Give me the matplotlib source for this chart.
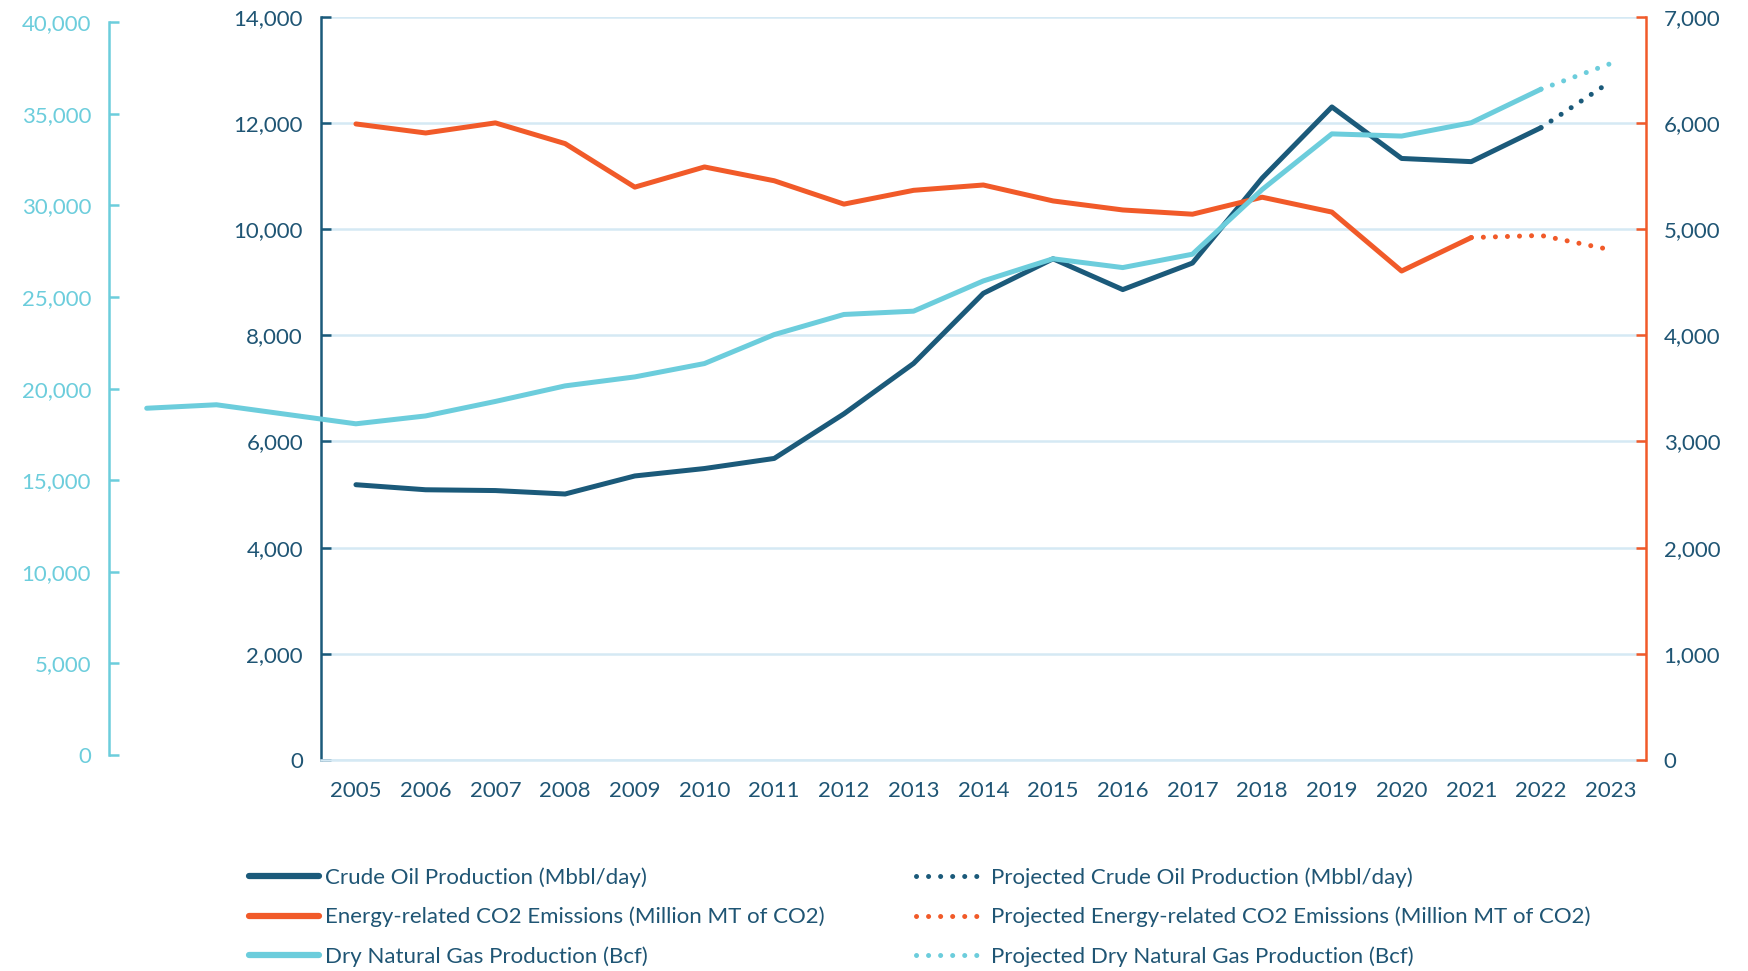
import matplotlib.pyplot as plt
from matplotlib.lines import Line2D
from matplotlib.ticker import FuncFormatter

plt.rcParams['font.family'] = ['Lato', 'DejaVu Sans']

years = list(range(2005, 2023))
oil = [5185, 5090, 5075, 5010, 5350, 5490, 5680, 6520, 7470, 8790, 9440, 8860,
       9360, 10960, 12300, 11330, 11270, 11910]
oil_proj_years = [2022, 2023]
oil_proj = [11910, 12780]

co2_years = list(range(2005, 2022))
co2 = [5990, 5905, 6000, 5805, 5395, 5585, 5455, 5235, 5365, 5415, 5265, 5180,
       5140, 5300, 5160, 4605, 4920]
co2_proj_years = [2021, 2022, 2023]
co2_proj = [4920, 4940, 4805]

gas_years = [2002, 2003] + list(range(2005, 2023))
gas = [18930, 19120, 18080, 18510, 19300, 20150, 20640, 21370, 22950, 24050,
       24230, 25880, 27090, 26610, 27340, 30870, 33910, 33790, 34520, 36350]
gas_proj_years = [2022, 2023]
gas_proj = [36350, 37750]

DARK = '#1B5A7A'
ORANGE = '#F15A29'
CYAN = '#6CCDDC'
GRID = '#D5E9F4'
TXT = '#1F5574'
FS = 16

fmt = FuncFormatter(lambda v, p: '{:,}'.format(int(v)))
dot = (0, (0.01, 2.4))

fig = plt.figure(figsize=(17.48, 9.71), dpi=100)

ax = fig.add_axes([0.1837, 0.2173, 0.7577, 0.7655])
ax.set_zorder(1)
ax.plot(years, oil, color=DARK, lw=3.6, solid_capstyle='round', zorder=3)
ax.plot(oil_proj_years, oil_proj, color=DARK, lw=3.6, linestyle=dot,
        dash_capstyle='round', zorder=3)
ax.set_xlim(2004.5, 2023.5)
ax.set_ylim(0, 14000)
ax.set_yticks(range(0, 14001, 2000))
ax.yaxis.set_major_formatter(fmt)
ax.set_xticks(range(2005, 2024))
ax.grid(axis='y', color=GRID, lw=1.8)
ax.set_axisbelow(True)
for s in ['top', 'right']:
    ax.spines[s].set_visible(False)
ax.spines['bottom'].set_color(GRID)
ax.spines['bottom'].set_linewidth(1.8)
ax.spines['left'].set_color(DARK)
ax.spines['left'].set_linewidth(1.8)
ax.tick_params(axis='y', direction='in', length=7, width=1.8, color=DARK,
               labelcolor=TXT, labelsize=FS, pad=13)
ax.tick_params(axis='x', length=0, labelcolor=TXT, labelsize=FS, pad=15)

ax2 = ax.twinx()
ax2.set_zorder(2)
ax2.plot(co2_years, co2, color=ORANGE, lw=3.6, solid_capstyle='round')
ax2.plot(co2_proj_years, co2_proj, color=ORANGE, lw=3.6, linestyle=dot,
         dash_capstyle='round')
ax2.set_ylim(0, 7000)
ax2.set_yticks(range(0, 7001, 1000))
ax2.yaxis.set_major_formatter(fmt)
for s in ['top', 'left', 'bottom']:
    ax2.spines[s].set_visible(False)
ax2.spines['right'].set_color(ORANGE)
ax2.spines['right'].set_linewidth(1.8)
ax2.tick_params(axis='y', direction='in', length=7, width=1.8, color=ORANGE,
                labelcolor=TXT, labelsize=FS, pad=13)

axg = fig.add_axes([0.0624, 0.2225, 0.879, 0.7545])
axg.set_zorder(3)
axg.patch.set_visible(False)
axg.plot(gas_years, gas, color=CYAN, lw=3.6, solid_capstyle='round')
axg.plot(gas_proj_years, gas_proj, color=CYAN, lw=3.6, linestyle=dot,
         dash_capstyle='round')
axg.set_xlim(2001.46, 2023.5)
axg.set_ylim(0, 40000)
axg.set_yticks(range(0, 40001, 5000))
axg.yaxis.set_major_formatter(fmt)
axg.set_xticks([])
for s in ['top', 'right', 'bottom']:
    axg.spines[s].set_visible(False)
axg.spines['left'].set_color(CYAN)
axg.spines['left'].set_linewidth(1.8)
axg.tick_params(axis='y', direction='in', length=7, width=1.8, color=CYAN,
                labelcolor=CYAN, labelsize=FS, pad=13)

handles = [
    Line2D([], [], color=DARK, lw=4.5, solid_capstyle='round'),
    Line2D([], [], color=ORANGE, lw=4.5, solid_capstyle='round'),
    Line2D([], [], color=CYAN, lw=4.5, solid_capstyle='round'),
    Line2D([], [], color=DARK, lw=3.6, linestyle=dot, dash_capstyle='round'),
    Line2D([], [], color=ORANGE, lw=3.6, linestyle=dot, dash_capstyle='round'),
    Line2D([], [], color=CYAN, lw=3.6, linestyle=dot, dash_capstyle='round'),
]
labels = ['Crude Oil Production (Mbbl/day)',
          'Energy-related CO2 Emissions (Million MT of CO2)',
          'Dry Natural Gas Production (Bcf)',
          'Projected Crude Oil Production (Mbbl/day)',
          'Projected Energy-related CO2 Emissions (Million MT of CO2)',
          'Projected Dry Natural Gas Production (Bcf)']
leg = fig.legend(handles, labels, ncol=2, loc='upper left',
                 bbox_to_anchor=(0.1376, 0.1159), frameon=False, fontsize=FS,
                 handlelength=3.15, handletextpad=0.25, columnspacing=4.1,
                 labelspacing=0.85, borderaxespad=0)
for t in leg.get_texts():
    t.set_color(TXT)

fig.savefig('out.png', dpi=100)
